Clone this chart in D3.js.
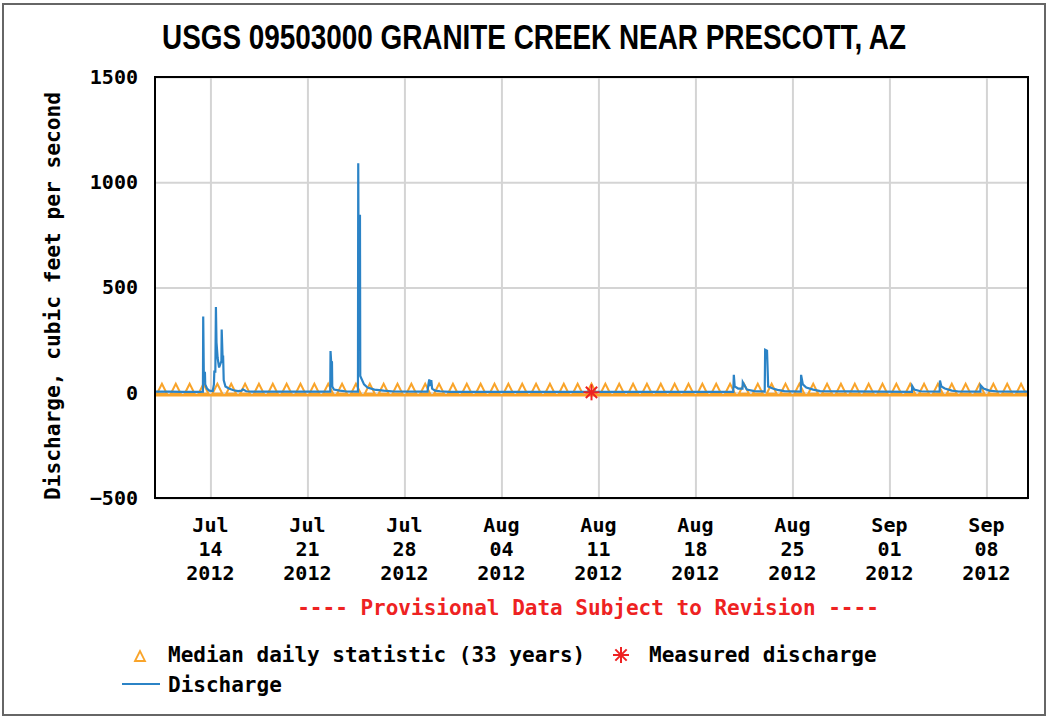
<!DOCTYPE html>
<html><head><meta charset="utf-8">
<script src="https://cdn.jsdelivr.net/npm/d3@7"></script>
<style>
html,body{margin:0;padding:0;background:#fff;}
svg{display:block;}
.mono{font-family:"DejaVu Sans Mono","Liberation Mono",monospace;font-weight:bold;}
</style></head>
<body>
<svg id="chart" width="1049" height="719"></svg>
<script>
// ---------- DATA ----------
const title = "USGS 09503000 GRANITE CREEK NEAR PRESCOTT, AZ";
const yLabel = "Discharge, cubic feet per second";
const yTicks = [-500, 0, 500, 1000, 1500];
const xTickDates = ["2012-07-14","2012-07-21","2012-07-28","2012-08-04","2012-08-11","2012-08-18","2012-08-25","2012-09-01","2012-09-08"];
const xTickMonth = ["Jul","Jul","Jul","Aug","Aug","Aug","Aug","Sep","Sep"];
const xTickDay = ["14","21","28","04","11","18","25","01","08"];
const xTickYear = ["2012","2012","2012","2012","2012","2012","2012","2012","2012"];
const domainStart = "2012-07-10 00:00", domainEnd = "2012-09-11 00:00";

// discharge (cfs), time stamps and values
const qTimes = [
 "2012-07-10 00:00","2012-07-11 00:00","2012-07-12 00:00","2012-07-13 06:00","2012-07-13 11:00","2012-07-13 11:30","2012-07-13 12:30","2012-07-13 13:00","2012-07-13 14:30","2012-07-13 15:00","2012-07-13 18:00","2012-07-13 22:00",
 "2012-07-14 04:00","2012-07-14 06:00","2012-07-14 06:45","2012-07-14 08:30","2012-07-14 09:30","2012-07-14 10:30","2012-07-14 12:30","2012-07-14 15:00","2012-07-14 19:00","2012-07-14 19:30","2012-07-14 21:00","2012-07-14 22:00","2012-07-14 23:00",
 "2012-07-15 02:00","2012-07-15 08:00","2012-07-15 16:00","2012-07-16 00:00","2012-07-16 06:00","2012-07-16 08:00","2012-07-16 14:00","2012-07-17 00:00",
 "2012-07-22 15:30","2012-07-22 16:00","2012-07-22 17:00","2012-07-22 18:30","2012-07-22 19:00","2012-07-22 22:00","2012-07-23 08:00","2012-07-23 20:00",
 "2012-07-24 15:30","2012-07-24 16:00","2012-07-24 16:20","2012-07-24 19:00","2012-07-24 19:30","2012-07-25 02:00","2012-07-25 08:00","2012-07-25 20:00","2012-07-26 12:00","2012-07-27 06:00",
 "2012-07-29 16:00","2012-07-29 17:30","2012-07-29 19:00","2012-07-29 20:30","2012-07-29 22:30","2012-07-30 00:00","2012-07-30 05:00","2012-07-30 14:00","2012-07-31 06:00",
 "2012-08-20 17:30","2012-08-20 18:30","2012-08-20 20:00","2012-08-21 02:00","2012-08-21 09:30","2012-08-21 10:00","2012-08-21 12:00","2012-08-21 17:00","2012-08-22 06:00",
 "2012-08-23 00:00","2012-08-23 00:45","2012-08-23 04:00","2012-08-23 06:00","2012-08-23 14:00","2012-08-23 22:00","2012-08-24 10:00",
 "2012-08-25 14:30","2012-08-25 15:00","2012-08-25 18:00","2012-08-26 00:00","2012-08-26 12:00","2012-08-27 00:00",
 "2012-09-02 15:00","2012-09-02 15:30","2012-09-02 19:00","2012-09-03 06:00",
 "2012-09-04 15:00","2012-09-04 15:30","2012-09-04 18:00","2012-09-05 00:00","2012-09-05 12:00","2012-09-06 00:00",
 "2012-09-07 13:30","2012-09-07 14:00","2012-09-07 19:00","2012-09-08 05:00","2012-09-08 20:00","2012-09-11 00:00"
];
const qValues = [
 5,5,4,4,5,362,95,95,95,40,20,10,
 8,40,100,100,407,240,165,120,150,300,172,172,60,
 30,20,12,8,10,16,7,5,
 5,198,150,146,30,15,10,6,
 5,1090,840,840,80,40,25,15,10,6,
 5,40,63,45,60,20,10,7,4,
 4,85,30,20,20,50,40,15,8,
 6,204,200,30,20,14,8,
 5,85,40,25,15,8,
 4,32,15,7,
 5,58,30,20,10,6,
 5,35,20,10,6,5
];

// median daily statistic (33 years), one per day Jul 10 .. Sep 10
const medianValues = [
 0,0,0,0,0,0,0,0,0,0,0,0,0,0,0,0,0,0,0,0,0,
 0,0,0,0,0,0,0,0,0,0,0,0,0,0,0,0,0,0,0,0,0,
 0,0,0,0,0,0,0,0,0,0,0,0,0,0,0,0,0,0,0,0,0
];
const medianStart = "2012-07-10 12:00";

// measured discharge
const measuredTimes = ["2012-08-10 12:00"];
const measuredValues = [2];

const legendItems = ["Median daily statistic (33 years)", "Measured discharge", "Discharge"];
const provisional = "---- Provisional Data Subject to Revision ----";

// ---------- DRAW ----------
const svg = d3.select("#chart");
const parse = d3.timeParse("%Y-%m-%d %H:%M");
const parseD = d3.timeParse("%Y-%m-%d");
const L = 155, R = 1028, T = 77, B = 498;
const x = d3.scaleTime().domain([parse(domainStart), parse(domainEnd)]).range([L, R]);
const y = d3.scaleLinear().domain([-500, 1500]).range([B, T]);
const BLUE = "#2b83c6", ORANGE = "#f9a42a", RED = "#ee2222";

// outer border
svg.append("rect").attr("x",3).attr("y",4).attr("width",1042).attr("height",711)
  .attr("fill","#fff").attr("stroke","#666").attr("stroke-width",2);

// title
svg.append("text").attr("x",534).attr("y",49).attr("text-anchor","middle")
  .attr("font-family","'Liberation Sans Narrow','Liberation Sans',Arial,sans-serif")
  .attr("font-weight","bold").attr("font-size",35)
  .attr("textLength",744).attr("lengthAdjust","spacingAndGlyphs")
  .text(title);

// gridlines
const gy = d3.axisLeft(y).tickValues(yTicks).tickSize(-(R-L)).tickFormat("");
svg.append("g").attr("transform",`translate(${L},0)`).call(gy)
  .call(g=>g.select(".domain").remove())
  .call(g=>g.selectAll("line").attr("stroke","#d4d4d4").attr("stroke-width",2));
const xTicks = xTickDates.map(parseD);
const gx = d3.axisBottom(x).tickValues(xTicks).tickSize(-(B-T)).tickFormat("");
svg.append("g").attr("transform",`translate(0,${B})`).call(gx)
  .call(g=>g.select(".domain").remove())
  .call(g=>g.selectAll("line").attr("stroke","#d4d4d4").attr("stroke-width",2));

// y tick labels
const ya = d3.axisLeft(y).tickValues(yTicks).tickSize(0).tickPadding(17).tickFormat(d3.format("d"));
svg.append("g").attr("transform",`translate(${L},0)`).call(ya)
  .call(g=>g.select(".domain").remove())
  .call(g=>g.selectAll("text").attr("class","mono").attr("font-size",20).attr("fill","#000")
     .attr("font-family","'DejaVu Sans Mono',monospace").attr("font-weight","bold"));

// x tick labels (3 lines)
const xl = svg.append("g");
xTicks.forEach((d,i)=>{
  const t = xl.append("text").attr("class","mono").attr("font-size",20).attr("text-anchor","middle")
    .attr("x", x(d)).attr("y", 532);
  t.append("tspan").attr("x",x(d)).attr("dy",0).text(xTickMonth[i]);
  t.append("tspan").attr("x",x(d)).attr("dy",24).text(xTickDay[i]);
  t.append("tspan").attr("x",x(d)).attr("dy",24).text(xTickYear[i]);
});

// y axis title
svg.append("text").attr("class","mono").attr("font-size",21)
  .attr("transform","translate(60,296) rotate(-90)").attr("text-anchor","middle")
  .attr("textLength",408).attr("lengthAdjust","spacingAndGlyphs")
  .text(yLabel);

// clip
svg.append("clipPath").attr("id","clip").append("rect").attr("x",L).attr("y",T).attr("width",R-L).attr("height",B-T);
const plot = svg.append("g").attr("clip-path","url(#clip)");

// median: triangles + line
const medStart = parse(medianStart);
const medData = medianValues.map((v,i)=>({t:d3.timeDay.offset(medStart,i), v}));
plot.append("line").attr("x1",L).attr("x2",R)
  .attr("y1",y(medData[0].v)+2.5).attr("y2",y(medData[0].v)+2.5)
  .attr("stroke",ORANGE).attr("stroke-width",2.5);
const tri = (cx,cy)=>`M${cx-5},${cy+1}L${cx},${cy-9}L${cx+5},${cy+1}Z`;
plot.selectAll("path.med").data(medData).join("path").attr("class","med")
  .attr("d",d=>tri(x(d.t), y(d.v)))
  .attr("fill","none").attr("stroke",ORANGE).attr("stroke-width",2);

// discharge line
const qData = qTimes.map((t,i)=>({t:parse(t), v:qValues[i]}));
plot.append("path").datum(qData)
  .attr("d", d3.line().x(d=>x(d.t)).y(d=>y(d.v)))
  .attr("fill","none").attr("stroke",BLUE).attr("stroke-width",2.2).attr("stroke-linejoin","miter");

// measured discharge asterisk
const star = (g,cx,cy,r)=>{
  [0,45,90,135].forEach(a=>{
    const rad=a*Math.PI/180;
    g.append("line").attr("x1",cx-r*Math.cos(rad)).attr("y1",cy-r*Math.sin(rad))
      .attr("x2",cx+r*Math.cos(rad)).attr("y2",cy+r*Math.sin(rad))
      .attr("stroke",RED).attr("stroke-width",2);
  });
};
measuredTimes.forEach((t,i)=>star(plot, x(parse(t)), y(measuredValues[i]), 8));

// plot border
svg.append("rect").attr("x",L).attr("y",T).attr("width",R-L).attr("height",B-T)
  .attr("fill","none").attr("stroke","#000").attr("stroke-width",2);

// provisional
svg.append("text").attr("class","mono").attr("font-size",21).attr("fill",RED)
  .attr("x",588).attr("y",615).attr("text-anchor","middle").text(provisional);

// legend
const lg = svg.append("g");
lg.append("path").attr("d",tri(140,660)).attr("fill","none").attr("stroke",ORANGE).attr("stroke-width",1.8);
lg.append("text").attr("class","mono").attr("font-size",21).attr("x",168).attr("y",662).text(legendItems[0]);
star(lg, 621, 655, 8);
lg.append("text").attr("class","mono").attr("font-size",21).attr("x",649).attr("y",662).text(legendItems[1]);
lg.append("line").attr("x1",122).attr("x2",160).attr("y1",684).attr("y2",684).attr("stroke",BLUE).attr("stroke-width",2);
lg.append("text").attr("class","mono").attr("font-size",21).attr("x",168).attr("y",692).text(legendItems[2]);
</script>
</body></html>
